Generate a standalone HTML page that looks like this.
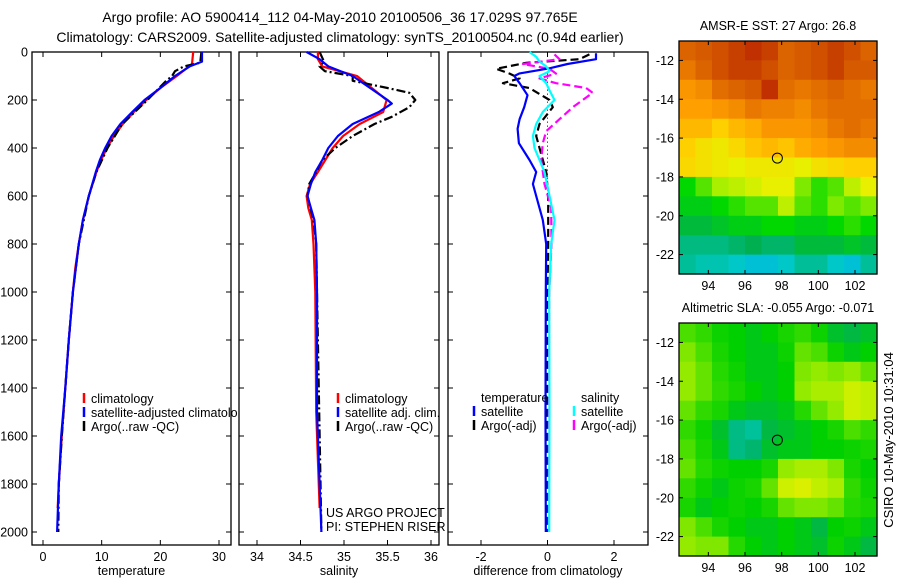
<!DOCTYPE html>
<html><head><meta charset="utf-8"><style>
body{margin:0;background:#fff}
svg{display:block;font-family:"Liberation Sans",sans-serif;font-size:12.5px}
</style></head><body>
<svg id="fig" width="900" height="580" viewBox="0 0 900 580" xmlns="http://www.w3.org/2000/svg">
<defs><clipPath id="c1"><rect x="0" y="0" width="238" height="580"/></clipPath></defs>
<rect width="900" height="580" fill="#fff"/>
<text x="340" y="22" text-anchor="middle" font-size="14">Argo profile: AO 5900414_112 04-May-2010 20100506_36 17.029S 97.765E</text>
<text x="340" y="42" text-anchor="middle" font-size="14">Climatology: CARS2009. Satellite-adjusted climatology: synTS_20100504.nc (0.94d earlier)</text>
<g id="g"></g>
<text transform="translate(893,440) rotate(-90)" text-anchor="middle" font-size="13">CSIRO 10-May-2010 10:31:04</text>
</svg>
<script>
// ---------- data ----------
const tDepth = [0,50,100,150,200,250,300,350,400,450,500,600,700,800,900,1000,1200,1400,1600,1800,1900];
const tClim  = [25.6,25.4,22.8,20,17.6,15.5,13.6,12.1,10.9,9.9,9.1,7.8,6.8,6.1,5.5,5.1,4.4,3.8,3.2,2.7,2.5];
const tSatDepth = [0,40,60,100,150,200,250,300,350,400,450,500,600,700,800,1000,1200,1400,1600,1800,2000];
const tSat   = [27.1,27.1,25,22.5,20,17.3,15.2,13.2,11.7,10.6,9.7,9,7.8,6.8,6.1,5.1,4.4,3.8,3.1,2.7,2.4];
const tArgoDepth = [0,45,60,80,100,120,150,200,300,400,500,600,800,1000,1200,1400,1600,1800,2000];
const tArgo  = [27,26.8,24,22.5,22,21,19.8,17.8,13.5,11,9.1,7.8,6.1,5.1,4.4,3.8,3.2,2.7,2.6];

const sDepth = [0,30,60,100,200,250,300,350,400,500,550,600,650,700,800,1000,1500,1900];
const sClim  = [34.70,34.70,34.75,35.15,35.49,35.45,35.18,34.99,34.87,34.70,34.61,34.57,34.59,34.63,34.65,34.67,34.68,34.72];
const sSatDepth = [0,30,60,100,150,200,215,250,300,350,400,450,500,550,600,650,700,800,1000,1500,2000];
const sSat   = [34.57,34.72,34.82,35.1,35.3,35.5,35.55,35.4,35.1,34.93,34.82,34.75,34.67,34.62,34.58,34.62,34.66,34.68,34.69,34.69,34.74];
const sArgoDepth = [0,40,60,80,100,120,150,170,200,230,270,300,350,400,450,500,550,600,700,800,1000,2000];
const sArgo  = [34.72,34.77,34.72,34.78,35.1,35.1,35.5,35.75,35.82,35.75,35.55,35.35,35.1,34.9,34.75,34.68,34.6,34.58,34.65,34.68,34.69,34.74];

const dTSatDepth = [5,30,50,68,89,100,130,180,230,280,320,380,450,500,550,600,700,800,1000,1500,2000];
const dTSat = [1.46,1.46,0.6,0.06,-0.84,-1.0,-0.84,-0.6,-0.7,-0.84,-0.9,-0.86,-0.54,-0.34,-0.44,-0.34,-0.14,-0.04,-0.05,-0.06,-0.05];
const dSSatDepth = [0,20,40,60,80,100,130,160,200,250,300,350,400,450,500,600,700,800,1000,1500,2000];
const dSSat = [-0.54,-0.34,-0.24,-0.04,0.06,-0.24,-0.04,0.06,0.21,-0.14,-0.34,-0.44,-0.39,-0.24,-0.09,0.06,0.21,0.11,0.05,0.06,0.05];
const dTArgoDepth = [10,30,45,70,90,110,130,150,200,230,300,350,400,500,600,800,1000,1500,2000];
const dTArgo = [1.26,0.96,-0.64,-1.54,-1.14,-0.84,-1.34,-0.54,0.06,0.16,-0.24,-0.34,-0.24,-0.04,0.02,0.02,0.0,-0.02,-0.02];
const dSArgoDepth = [10,30,50,70,90,110,130,150,170,200,230,280,330,380,450,550,650,800,1000,2000];
const dSArgo = [0.21,0.36,-0.74,0.06,0.26,-0.24,0.26,1.16,1.36,1.06,0.76,0.36,-0.04,-0.14,-0.19,-0.09,0.11,0.12,0.05,0.04];

const sstLats = [-11.5,-12.5,-13.5,-14.5,-15.5,-16.5,-17.5,-18.5,-19.5,-20.5,-21.5,-22.5];
const sstLons = [92.85,93.75,94.65,95.55,96.45,97.35,98.25,99.15,100.05,100.95,101.85,102.75];
const sstGrid = [
[28.4,28.5,28.6,28.7,28.8,28.7,28.4,28.5,28.6,28.7,28.6,28.4],
[28.2,28.4,28.6,28.7,28.7,28.6,28.4,28.5,28.6,28.7,28.5,28.5],
[27.9,28.0,28.3,28.4,28.5,28.8,28.3,28.2,28.3,28.4,28.3,28.2],
[27.8,27.8,27.9,28.0,28.2,28.1,28.1,28.0,28.2,28.3,28.3,28.3],
[27.6,27.6,27.4,27.6,27.7,27.9,27.9,27.9,28.0,28.2,28.3,28.2],
[27.4,27.2,27.1,27.3,27.5,27.6,27.5,27.7,27.8,27.9,28.0,28.0],
[27.3,27.2,27.1,27.0,27.1,27.1,27.1,27.0,27.2,27.3,27.4,27.4],
[26.3,26.5,26.7,26.8,26.9,27.0,27.0,26.6,26.4,26.5,26.8,27.0],
[26.2,26.2,26.3,26.4,26.5,26.5,26.8,26.5,26.4,26.6,26.5,26.6],
[26.0,26.0,26.1,26.2,26.2,26.3,26.3,26.2,26.2,26.3,26.4,26.3],
[25.7,25.7,25.7,25.8,25.9,25.8,25.8,26.0,26.0,26.0,26.1,26.0],
[25.6,25.5,25.5,25.4,25.3,25.3,25.4,25.6,25.6,25.4,25.3,25.6]];
const slaGrid = [
[0.01,0.0,-0.03,-0.04,-0.05,-0.04,-0.02,0.0,-0.03,-0.06,-0.07,-0.06],
[0.03,0.01,-0.02,-0.04,-0.05,-0.05,-0.03,0.02,0.01,-0.03,-0.05,-0.04],
[0.04,0.02,-0.01,-0.03,-0.05,-0.05,-0.04,0.03,0.04,0.03,0.04,0.02],
[0.04,0.02,0.0,-0.02,-0.04,-0.05,-0.04,0.04,0.05,0.05,0.07,0.06],
[0.02,0.0,-0.02,-0.05,-0.06,-0.06,-0.05,-0.01,0.02,0.04,0.07,0.06],
[0.0,-0.03,-0.06,-0.1,-0.11,-0.07,-0.06,-0.05,-0.04,-0.02,0.01,0.0],
[0.01,-0.02,-0.05,-0.1,-0.09,-0.06,-0.05,-0.05,-0.04,-0.04,-0.03,-0.02],
[0.02,-0.01,-0.03,-0.04,-0.04,-0.02,0.04,0.05,0.05,0.03,-0.02,-0.04],
[0.0,-0.03,-0.05,-0.03,-0.02,0.02,0.07,0.08,0.06,0.05,0.0,-0.03],
[-0.02,-0.05,-0.04,-0.03,-0.04,-0.02,0.02,0.03,0.03,0.02,-0.01,-0.02],
[0.03,0.01,-0.02,-0.04,-0.05,-0.05,-0.04,-0.05,-0.07,-0.04,-0.03,-0.05],
[0.04,0.03,0.03,-0.01,-0.04,-0.05,-0.04,-0.05,-0.06,-0.03,-0.05,-0.07]];
const floatLon = 97.765, floatLat = -17.029;
const depthTicks = [0,200,400,600,800,1000,1200,1400,1600,1800,2000];
const tempTicks = [0,10,20,30];
const salTicks = [34,34.5,35,35.5,36];
const diffTicks = [-2,0,2];
const lonTicks = [94,96,98,100,102];
const latTicks = [-12,-14,-16,-18,-20,-22];

// ---------- helpers ----------
const NS='http://www.w3.org/2000/svg', G=document.getElementById('g');
function mk(tag,attrs,parent){const e=document.createElementNS(NS,tag);for(const k in attrs)e.setAttribute(k,attrs[k]);(parent||G).appendChild(e);return e;}
const yD = d => 52 + 0.24*d;
function lin(d0,d1,p0,p1){return v=>p0+(v-d0)*(p1-p0)/(d1-d0);}

function panel(name,x0,x1,xs,xticks,label,fmt){
  const y0=52,y1=545;
  const g=mk('g',{});
  
  
  mk('rect',{x:x0,y:y0,width:x1-x0,height:y1-y0,fill:'none',stroke:'#000','stroke-width':1.3},g);
  depthTicks.forEach(d=>{const y=yD(d);
    mk('line',{x1:x0,x2:x0+5,y1:y,y2:y,stroke:'#000'},g);mk('line',{x1:x1-5,x2:x1,y1:y,y2:y,stroke:'#000'},g);
    if(name==='temperature-panel'){const t=mk('text',{x:x0-4,y:y+4.5,'text-anchor':'end'},g);t.textContent=d;
      
      }
  });
  xticks.forEach(v=>{const x=xs(v);
    mk('line',{x1:x,x2:x,y1:y1,y2:y1-5,stroke:'#000'},g);mk('line',{x1:x,x2:x,y1:y0,y2:y0+5,stroke:'#000'},g);
    const t=mk('text',{x:x,y:y1+16,'text-anchor':'middle'},g);t.textContent=fmt(v);
    
    
  });
  const t=mk('text',{x:(x0+x1)/2,y:y1+30,'text-anchor':'middle'},g);t.textContent=label;
  
  
  return g;
}
function line(g,xs,vals,depths,color,dash,name,w){
  const pts=vals.map((v,i)=>xs(v).toFixed(1)+','+yD(depths[i]).toFixed(1)).join(' ');
  const p=mk('polyline',{points:pts,fill:'none',stroke:color,'stroke-width':w||2.2,'stroke-dasharray':dash||'none','stroke-linejoin':'round'},g);
  
  
}
function legend(g,x,y,color,text,name){
  mk('line',{x1:x,x2:x,y1:y-10,y2:y,stroke:color,'stroke-width':2.5},g);
  const t=mk('text',{x:x+7,y:y},g);t.textContent=text;
  
  
}

// temperature panel
const xT=lin(0,30,43,219);
let g1=panel('temperature-panel',32,231,xT,tempTicks,'temperature',v=>v);
g1.setAttribute('clip-path','url(#c1)');
line(g1,xT,tClim,tDepth,'#f00',null,'temp-climatology-line');
line(g1,xT,tArgo,tArgoDepth,'#000','9,3,2,3','temp-argo-line');
line(g1,xT,tSat,tSatDepth,'#00f',null,'temp-satellite-line');
legend(g1,84,403,'#f00','climatology','legend-climatology');
legend(g1,84,417,'#00f','satellite-adjusted climatology','legend-satellite');
legend(g1,84,431,'#000','Argo(..raw -QC)','legend-argo');

// salinity panel
const xS=lin(34,36,257,431);
let g2=panel('salinity-panel',239,439,xS,salTicks,'salinity',v=>v);
line(g2,xS,sClim,sDepth,'#f00',null,'sal-climatology-line');
line(g2,xS,sArgo,sArgoDepth,'#000','9,3,2,3','sal-argo-line');
line(g2,xS,sSat,sSatDepth,'#00f',null,'sal-satellite-line');
legend(g2,338,403,'#f00','climatology','legend-climatology');
legend(g2,338,417,'#00f','satellite adj. clim.','legend-satellite');
legend(g2,338,431,'#000','Argo(..raw -QC)','legend-argo');
let t=mk('text',{x:326,y:517},g2);t.textContent='US ARGO PROJECT';


t=mk('text',{x:326,y:531},g2);t.textContent='PI: STEPHEN RISER';



// difference panel
const xDf=lin(-2,2,481,614);
let g3=panel('difference-panel',448,648,xDf,diffTicks,'difference from climatology',v=>v);
mk('line',{x1:xDf(0),x2:xDf(0),y1:yD(90),y2:yD(620),stroke:'#000','stroke-dasharray':'1,3'},g3);
line(g3,xDf,dTArgo,dTArgoDepth,'#000','8,4','diff-temp-argo-line');
line(g3,xDf,dSArgo,dSArgoDepth,'#f0f','8,4','diff-sal-argo-line');
line(g3,xDf,dTSat,dTSatDepth,'#00f',null,'diff-temp-satellite-line');
line(g3,xDf,dSSat,dSSatDepth,'#0ff',null,'diff-sal-satellite-line');
t=mk('text',{x:481,y:402},g3);t.textContent='temperature';


t=mk('text',{x:581,y:402},g3);t.textContent='salinity';


legend(g3,474,416,'#00f','satellite','legend-temp-satellite');
legend(g3,474,430,'#000','Argo(-adj)','legend-temp-argo');
legend(g3,574,416,'#0ff','satellite','legend-sal-satellite');
legend(g3,574,430,'#f0f','Argo(-adj)','legend-sal-argo');

// maps
function interp(stops,v){
  if(v<=stops[0][0])return stops[0][1];
  for(let i=1;i<stops.length;i++){if(v<=stops[i][0]){const a=stops[i-1],b=stops[i],f=(v-a[0])/(b[0]-a[0]);
    const h=s=>[1,3,5].map(k=>parseInt(s.substr(k,2),16));const A=h(a[1]),B=h(b[1]);
    return 'rgb('+A.map((c,j)=>Math.round(c+(B[j]-c)*f)).join(',')+')';}}
  return stops[stops.length-1][1];
}
const sstStops=[[25.0,'#00a8ff'],[25.4,'#00c8c8'],[25.9,'#00b050'],[26.3,'#00d800'],[26.7,'#a8f000'],[27.0,'#e8f000'],[27.4,'#ffd000'],[27.8,'#ffa000'],[28.2,'#e87800'],[28.6,'#d05000'],[29,'#b01000']];
const slaStops=[[-0.12,'#00c8b0'],[-0.08,'#00b058'],[-0.04,'#00d000'],[0,'#30da00'],[0.03,'#80e800'],[0.06,'#c0f000'],[0.09,'#e8f000']];
function map(name,top,grid,stops,title){
  const x0=679,x1=877,y0=top,y1=top+233;
  const xL=lin(92.4,103.2,x0,x1), yL=lin(-11,-23,y0,y1);
  const g=mk('g',{});
  
  
  grid.forEach((row,i)=>row.forEach((v,j)=>{
    const xa=xL(sstLons[j]-0.45),xb=xL(sstLons[j]+0.45),ya=yL(sstLats[i]+0.5),yb=yL(sstLats[i]-0.5);
    const r=mk('rect',{x:xa.toFixed(1),y:ya.toFixed(1),width:(xb-xa+0.6).toFixed(1),height:(yb-ya+0.6).toFixed(1),fill:interp(stops,v)},g);
    
    
  }));
  mk('rect',{x:x0,y:y0,width:x1-x0,height:y1-y0,fill:'none',stroke:'#000','stroke-width':1.3},g);
  lonTicks.forEach(v=>{const x=xL(v);mk('line',{x1:x,x2:x,y1:y1,y2:y1-4,stroke:'#000'},g);mk('line',{x1:x,x2:x,y1:y0,y2:y0+4,stroke:'#000'},g);
    const t=mk('text',{x:x,y:y1+16,'text-anchor':'middle'},g);t.textContent=v;
    
    });
  latTicks.forEach(v=>{const y=yL(v);mk('line',{x1:x0,x2:x0+4,y1:y,y2:y,stroke:'#000'},g);mk('line',{x1:x1-4,x2:x1,y1:y,y2:y,stroke:'#000'},g);
    const t=mk('text',{x:x0-5,y:y+4.5,'text-anchor':'end'},g);t.textContent=v;
    
    });
  const c=mk('circle',{cx:xL(floatLon),cy:yL(floatLat),r:5,fill:'none',stroke:'#000','stroke-width':1},g);
  
  
  const t=mk('text',{x:(x0+x1)/2,y:y0-11,'text-anchor':'middle'},g);t.textContent=title;
  
  
}
map('sst-map',41,sstGrid,sstStops,'AMSR-E SST: 27 Argo: 26.8');
map('sla-map',323,slaGrid,slaStops,'Altimetric SLA: -0.055 Argo: -0.071');
</script>
</body></html>
